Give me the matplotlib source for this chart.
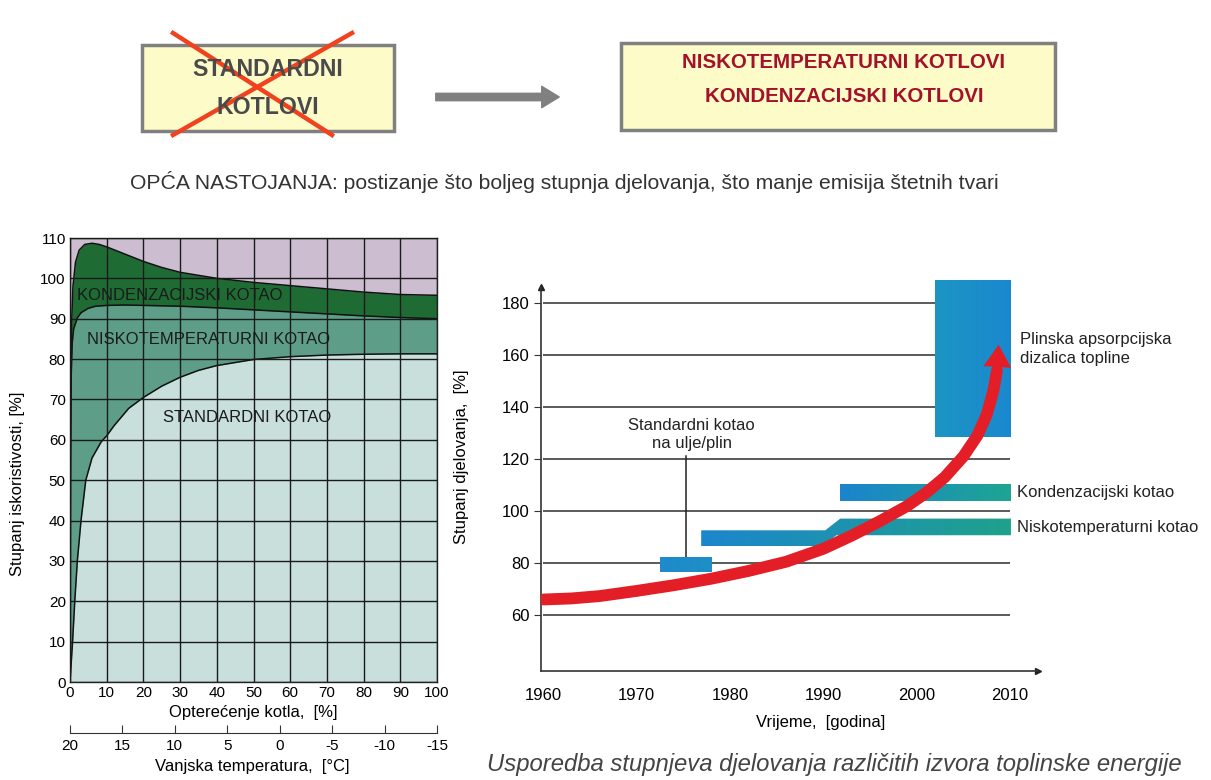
import numpy as np
import matplotlib
matplotlib.use("Agg")
import matplotlib.pyplot as plt
from matplotlib.patches import Rectangle, Polygon, FancyArrowPatch
from matplotlib.lines import Line2D
from matplotlib.colors import LinearSegmentedColormap

W, H = 1211, 780

# --- left chart: efficiency vs boiler load ---
load_top = [0, 0.15, 0.4, 0.8, 1.5, 2.5, 4, 6, 8, 10, 15, 20, 25, 30, 40, 50, 60, 70, 80, 90, 100]
eff_top = [0, 60, 88, 98, 104, 107, 108.4, 108.7, 108.4, 107.8, 106, 104.2, 102.7, 101.5, 100, 99, 98.2, 97.4, 96.6, 96, 95.8]

load_mid = [0, 0.1, 0.3, 0.6, 1, 2, 3, 5, 7, 10, 15, 20, 30, 40, 50, 60, 70, 80, 90, 100]
eff_mid = [0, 50, 75, 84, 87.5, 90.2, 91.5, 92.6, 93.1, 93.3, 93.4, 93.3, 93.1, 92.7, 92.2, 91.7, 91.2, 90.7, 90.3, 90.0]

load_std = [0, 0.7, 1.3, 2, 3, 4.3, 6, 8.5, 10, 12, 16, 20, 25, 30, 35, 40, 50, 60, 70, 80, 90, 100]
eff_std = [0, 10, 20, 30, 40, 50, 55.5, 59.5, 61, 63.5, 67.8, 70.5, 73.3, 75.5, 77.2, 78.4, 79.9, 80.6, 81, 81.2, 81.3, 81.3]

left_yticks = list(range(0, 111, 10))
left_xticks = list(range(0, 101, 10))
temp_ticks = [20, 15, 10, 5, 0, -5, -10, -15]

# --- right chart: efficiency over time ---
right_yticks = [60, 80, 100, 120, 140, 160, 180]
year_ticks = [1960, 1970, 1980, 1990, 2000, 2010]

std_box_years = [1972.5, 1978.1]
std_box_vals = [76.5, 82.5]
leader_year = 1975.3
leader_vals = [80, 121]

nisko_years = [1976.9, 1989.8, 1991.4, 2010.1, 2010.1, 1991.8, 1990.2, 1976.9]
nisko_vals = [86.4, 86.4, 90.7, 90.7, 97.1, 97.1, 92.6, 92.6]

kond_years = [1991.8, 2010.1]
kond_vals = [103.9, 110.5]

plin_years = [2002.0, 2010.1]
plin_vals = [128.5, 188.7]

arrow_years = [1960, 1963, 1966, 1970, 1974, 1978, 1982, 1986, 1990, 1993, 1996, 1999,
               2001, 2003, 2005, 2006.5, 2007.5, 2008.2, 2008.6]
arrow_vals = [66, 66.4, 67.3, 69.3, 71.5, 74, 77, 80.5, 85.5, 90.5, 96, 102,
              107, 113, 121, 129, 137, 146, 154]
arrow_tip = (2008.8, 165)

SANS = ["Liberation Sans", "DejaVu Sans"]
plt.rcParams["font.family"] = SANS
plt.rcParams["axes.unicode_minus"] = False


def px(x, y):
    return x / W, 1 - y / H


fig = plt.figure(figsize=(W / 100, H / 100), dpi=100)
fig.patch.set_facecolor("white")

# ---------------- header ----------------
b1 = Rectangle(px(142, 131), 252 / W, 86 / H, transform=fig.transFigure,
               facecolor="#FDFCC9", edgecolor="#808080", lw=2.5)
fig.patches.append(b1)
fig.text(*px(268, 70), "STANDARDNI", ha="center", va="center", fontsize=16.7,
         fontweight="bold", color="#4a4a4a")
fig.text(*px(268, 107), "KOTLOVI", ha="center", va="center", fontsize=16.7,
         fontweight="bold", color="#4a4a4a")
for (x0, y0), (x1, y1) in [((173, 33), (332, 135)), ((352, 33), (173, 135))]:
    fig.lines.append(Line2D([x0 / W, x1 / W], [1 - y0 / H, 1 - y1 / H],
                            transform=fig.transFigure, color="#F0421F", lw=3.2))

fig.patches.append(FancyArrowPatch(px(433, 97), px(562, 97), transform=fig.transFigure,
                                   arrowstyle="simple,head_length=0.9,head_width=1.1,tail_width=0.38",
                                   mutation_scale=14, color="#808080"))

b2 = Rectangle(px(621, 130), 434 / W, 87 / H, transform=fig.transFigure,
               facecolor="#FDFCC9", edgecolor="#808080", lw=2.5)
fig.patches.append(b2)
fig.text(*px(844, 62), "NISKOTEMPERATURNI KOTLOVI", ha="center", va="center", fontsize=14.8,
         fontweight="bold", color="#A3112B")
fig.text(*px(844, 96), "KONDENZACIJSKI KOTLOVI", ha="center", va="center", fontsize=14.8,
         fontweight="bold", color="#A3112B")

fig.text(*px(130, 182), "OPĆA NASTOJANJA: postizanje što boljeg stupnja djelovanja, što manje emisija štetnih tvari",
         ha="left", va="center", fontsize=15.2, color="#333333")

# ---------------- left chart ----------------
axl = fig.add_axes([70 / W, 1 - 682 / H, 367 / W, 444 / H])
axl.set_facecolor("#CCBED0")
axl.fill_between(load_top, 0, eff_top, color="#1F6B34", lw=0)
axl.fill_between(load_mid, 0, eff_mid, color="#5E9E88", lw=0)
axl.fill_between(load_std, 0, eff_std, color="#C8DFDC", lw=0)
for xs, ys in [(load_top, eff_top), (load_mid, eff_mid), (load_std, eff_std)]:
    axl.plot(xs, ys, color="#111111", lw=1.1)
axl.set_xlim(0, 100)
axl.set_ylim(0, 110)
axl.set_xticks(left_xticks)
axl.set_yticks(left_yticks)
axl.grid(True, color="#1a1a1a", lw=1.0)
axl.set_axisbelow(False)
axl.tick_params(length=0, labelsize=11, pad=3)
for s in axl.spines.values():
    s.set_color("#222222")
    s.set_linewidth(1.0)

axl.text(1.8, 95.8, "KONDENZACIJSKI KOTAO", fontsize=12, va="center", ha="left", color="#1a1a1a")
axl.text(4.5, 84.8, "NISKOTEMPERATURNI KOTAO", fontsize=12, va="center", ha="left", color="#1a1a1a")
axl.text(48.2, 65.5, "STANDARDNI KOTAO", fontsize=12, va="center", ha="center", color="#1a1a1a")

sec = axl.secondary_xaxis(-0.115, functions=(lambda x: 20 - 0.35 * x, lambda t: (20 - t) / 0.35))
sec.set_xticks(temp_ticks)
sec.tick_params(direction="in", length=6, labelsize=11, pad=4, color="#333333")
sec.spines["bottom"].set_color("#333333")

fig.text(*px(18, 484), "Stupanj iskoristivosti, [%]", rotation=90, ha="center", va="center", fontsize=12)
fig.text(*px(253, 712), "Opterećenje kotla,  [%]", ha="center", va="center", fontsize=12)
fig.text(*px(252, 767), "Vanjska temperatura,  [°C]", ha="center", va="center", fontsize=12)

# ---------------- right chart ----------------
axr = fig.add_axes([540.7 / W, 1 - 671 / H, (1038 - 540.7) / W, 394 / H])
axr.set_xlim(1959.7, 2013.0)
axr.set_ylim(38.5, 190)
axr.hlines(right_yticks, year_ticks[0], year_ticks[-1], color="#4d4d4d", lw=1.3, zorder=1)


def grad_fill(verts, c0, c1, z=3):
    poly = Polygon(verts, closed=True, facecolor="none", edgecolor="none")
    axr.add_patch(poly)
    xs = [v[0] for v in verts]
    ys = [v[1] for v in verts]
    cmap = LinearSegmentedColormap.from_list("g", [c0, c1])
    im = axr.imshow(np.linspace(0, 1, 256).reshape(1, -1), cmap=cmap, aspect="auto",
                    extent=(min(xs), max(xs), min(ys), max(ys)), zorder=z, interpolation="bilinear")
    im.set_clip_path(poly)


def rect_verts(xr, yr):
    return [(xr[0], yr[0]), (xr[1], yr[0]), (xr[1], yr[1]), (xr[0], yr[1])]


axr.plot([leader_year, leader_year], leader_vals, color="#222222", lw=1.1, zorder=2)
grad_fill(rect_verts(std_box_years, std_box_vals), "#1E8ACC", "#1F8FC6")
grad_fill(list(zip(nisko_years, nisko_vals)), "#1C86CD", "#1FA18C")
grad_fill(rect_verts(kond_years, kond_vals), "#1B84CD", "#1EA592")
grad_fill(rect_verts(plin_years, plin_vals), "#1C95C3", "#1A88CF")

red = "#E41E26"
axr.plot(arrow_years, arrow_vals, color=red, lw=8.5, solid_capstyle="round", zorder=5)
axr.add_patch(FancyArrowPatch((arrow_years[-1], arrow_vals[-1] - 1), arrow_tip,
                              arrowstyle="-|>,head_length=0.8,head_width=0.5",
                              mutation_scale=20, color=red, lw=0, zorder=6))

axr.set_xlim(1959.7, 2013.0)
axr.set_ylim(38.5, 190)
axr.set_yticks(right_yticks)
axr.set_xticks(year_ticks)
axr.tick_params(axis="y", length=5, labelsize=12, color="#333333", pad=3)
axr.tick_params(axis="x", length=0, labelsize=12, pad=12)
for side in ["top", "right"]:
    axr.spines[side].set_visible(False)
axr.spines["left"].set_bounds(38.5, 186)
axr.spines["left"].set_color("#333333")
axr.spines["bottom"].set_color("#333333")
axr.spines["left"].set_linewidth(1.2)
axr.spines["bottom"].set_linewidth(1.2)
axr.plot(0, 186, marker="^", color="#222222", ms=5, transform=axr.get_yaxis_transform(), clip_on=False)
axr.plot(1, 0, marker=">", color="#222222", ms=5, transform=axr.transAxes, clip_on=False)

axr.text(1975.9, 129.5, "Standardni kotao\nna ulje/plin", ha="center", va="center",
         fontsize=12, linespacing=1.3, color="#222222")
axr.text(2011.1, 162.2, "Plinska apsorpcijska\ndizalica topline", ha="left", va="center",
         fontsize=12, linespacing=1.3, color="#222222", clip_on=False)
axr.text(2010.75, 107.3, "Kondenzacijski kotao", ha="left", va="center", fontsize=12,
         color="#222222", clip_on=False)
axr.text(2010.75, 93.8, "Niskotemperaturni kotao", ha="left", va="center", fontsize=12,
         color="#222222", clip_on=False)

fig.text(*px(462, 457), "Stupanj djelovanja,  [%]", rotation=90, ha="center", va="center", fontsize=12)
fig.text(*px(821, 723), "Vrijeme,  [godina]", ha="center", va="center", fontsize=12)

fig.text(*px(487, 765), "Usporedba stupnjeva djelovanja različitih izvora toplinske energije",
         ha="left", va="center", fontsize=17.2, style="italic", color="#444444")

fig.savefig("out.png", dpi=100)
